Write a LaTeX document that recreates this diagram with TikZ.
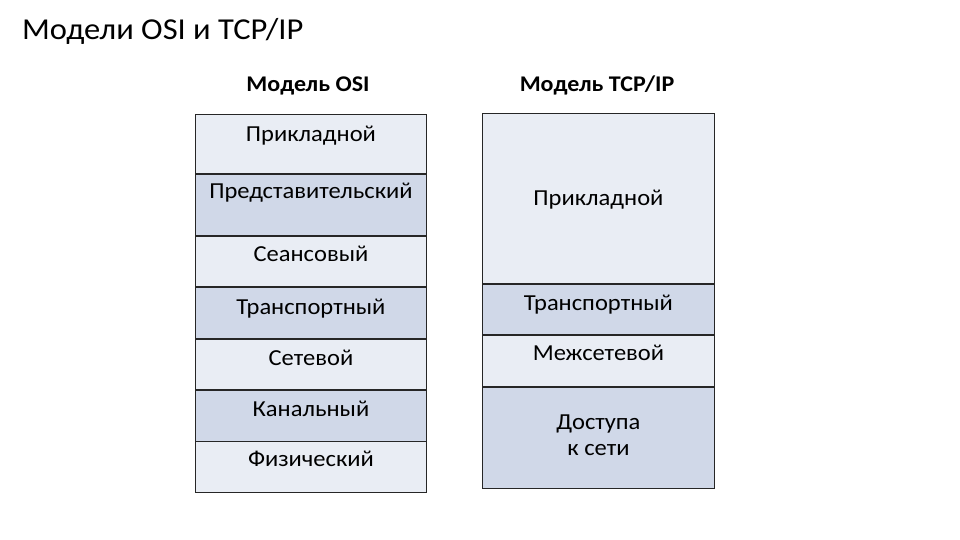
\documentclass[tikz,border=0pt]{standalone}
\usepackage{fontspec}
\setmainfont{Carlito}[FakeStretch=1.07]
\usetikzlibrary{calc,positioning}
\definecolor{svetlyy}{HTML}{E9EDF4}
\definecolor{temnyy}{HTML}{D0D8E8}
\definecolor{ramka}{HTML}{262626}
\begin{document}
\begin{tikzpicture}[x=1bp,y=-1bp, every node/.style={font=\fontsize{23}{23}\selectfont,inner sep=0pt},
  sloy/.style={draw=ramka,line width=0.9bp,anchor=north west,minimum width=231bp},
  zagl/.style={font=\bfseries\fontsize{22.5}{25}\selectfont,anchor=base}]
\useasboundingbox[fill=white] (0,0) rectangle (960,540);
\node[anchor=base west,font=\fontsize{30.5}{36}\selectfont] (zag) at (22,39.3) {Модели OSI и TCP/IP};
\node[zagl] (hosi) at (308,91.7) {Модель OSI};
\node[zagl] (htcp) at (597,91.7) {Модель TCP/IP};
% модель OSI
\node[sloy,fill=svetlyy,minimum height=59bp] (o1) at (195,114) {};
\node[sloy,fill=temnyy,minimum height=61bp] (o2) at (o1.south west) {};
\node[sloy,fill=svetlyy,minimum height=50bp] (o3) at (o2.south west) {};
\node[sloy,fill=temnyy,minimum height=51bp] (o4) at (o3.south west) {};
\node[sloy,fill=svetlyy,minimum height=50bp] (o5) at (o4.south west) {};
\node[sloy,fill=temnyy,minimum height=51bp] (o6) at (o5.south west) {};
\node[sloy,fill=svetlyy,minimum height=51bp] (o7) at (o6.south west) {};
\node[anchor=base] (so1) at ($(o1.north)+(0,27.7)$) {Прикладной};
\node[anchor=base] (so2) at ($(o2.north)+(0,25)$) {Представительский};
\node[anchor=base] (so3) at ($(o3.north)+(0,26)$) {Сеансовый};
\node[anchor=base] (so4) at ($(o4.north)+(0,27.5)$) {Транспортный};
\node[anchor=base] (so5) at ($(o5.north)+(0,26.5)$) {Сетевой};
\node[anchor=base] (so6) at ($(o6.north)+(0,26.5)$) {Канальный};
\node[anchor=base] (so7) at ($(o7.north)+(0,25.5)$) {Физический};
% модель TCP/IP
\node[sloy,fill=svetlyy,minimum width=232bp,minimum height=170bp] (t1) at (482,113) {};
\node[sloy,fill=temnyy,minimum width=232bp,minimum height=50bp] (t2) at (t1.south west) {};
\node[sloy,fill=svetlyy,minimum width=232bp,minimum height=51bp] (t3) at (t2.south west) {};
\node[sloy,fill=temnyy,minimum width=232bp,minimum height=101bp] (t4) at (t3.south west) {};
\node[anchor=base] (st1) at ($(t1.north)+(0,93)$) {Прикладной};
\node[anchor=base] (st2) at ($(t2.north)+(0,27)$) {Транспортный};
\node[anchor=base] (st3) at ($(t3.north)+(0,25.5)$) {Межсетевой};
\node[align=center] (st4) at ($(t4.north)+(0,48.5)$) {Доступа\\[4bp]к сети};
\end{tikzpicture}
\end{document}
